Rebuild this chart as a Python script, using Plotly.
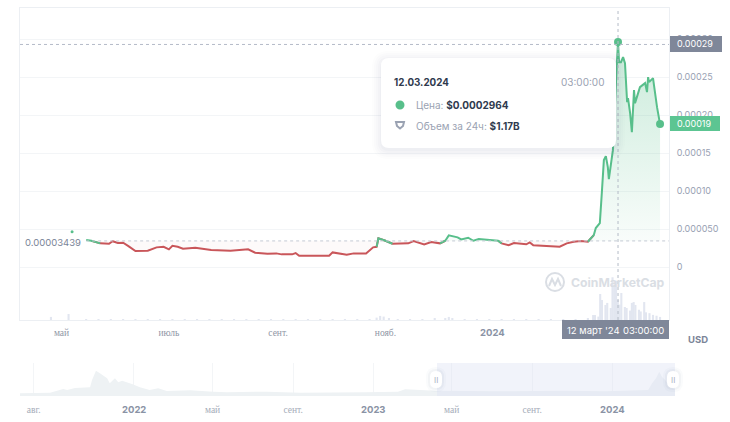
import plotly.graph_objects as go

W, H = 730, 422

GREEN = "#58bf8b"
RED = "#c9565a"
GREY = "#98a1b3"
GRID = "#f3f5f7"
EDGE = "#eceff3"
FONT = "Inter"

BASE_PRICE = 0.00003439
PEAK_DATE = "2024-03-12 03:00"
PEAK_LINE = 0.000293

# price history
price_dates = [
    "2023-05-15", "2023-05-18", "2023-05-23", "2023-05-28", "2023-05-30", "2023-06-02", "2023-06-05",
    "2023-06-08", "2023-06-12", "2023-06-19", "2023-06-24", "2023-06-28", "2023-07-01", "2023-07-03",
    "2023-07-06", "2023-07-09", "2023-07-14", "2023-07-16", "2023-07-25", "2023-08-05", "2023-08-15",
    "2023-08-19", "2023-08-26", "2023-08-31", "2023-09-03", "2023-09-09", "2023-09-11", "2023-09-13",
    "2023-09-30", "2023-10-02", "2023-10-10", "2023-10-14", "2023-10-21", "2023-10-25", "2023-10-27",
    "2023-10-28", "2023-11-01", "2023-11-05", "2023-11-14", "2023-11-17", "2023-11-23", "2023-11-27",
    "2023-12-02", "2023-12-05", "2023-12-07", "2023-12-12", "2023-12-14", "2023-12-18", "2023-12-21",
    "2023-12-24", "2024-01-04", "2024-01-06", "2024-01-10", "2024-01-13", "2024-01-20", "2024-01-22",
    "2024-01-24", "2024-02-04", "2024-02-08", "2024-02-12", "2024-02-16", "2024-02-20", "2024-02-24",
    "2024-02-27 09:00", "2024-02-28 12:00", "2024-02-29 16:00", "2024-03-01 19:00", "2024-03-02 22:00",
    "2024-03-04 02:00", "2024-03-05 05:00", "2024-03-06 08:00", "2024-03-06 22:00", "2024-03-08 00:00",
    "2024-03-09 05:00", "2024-03-11 12:00", "2024-03-12 03:00", "2024-03-12 17:00", "2024-03-13 19:00",
    "2024-03-15 00:00", "2024-03-16 02:00", "2024-03-17 07:00", "2024-03-17 19:00", "2024-03-19 00:00",
    "2024-03-20 00:00", "2024-03-21 05:00", "2024-03-21 19:00", "2024-03-24 14:00", "2024-03-27 12:00",
    "2024-03-28 14:00", "2024-03-29 05:00", "2024-03-29 19:00", "2024-04-01 00:00", "2024-04-03 07:00",
    "2024-04-05 00:00",
]
# in millionths of a dollar
price_micro = [
    35.5, 34.5, 31.2, 30.7, 34.0, 31.6, 32.0,
    27.6, 21.1, 21.4, 25.9, 26.7, 23.3, 28.0,
    26.7, 24.1, 24.6, 25.4, 22.4, 21.4, 23.3,
    18.8, 17.5, 18.0, 16.7, 16.7, 18.4, 14.9,
    14.9, 19.3, 16.2, 18.0, 17.8, 25.9, 26.7,
    37.8, 34.6, 30.7, 31.2, 34.2, 29.9, 32.9,
    31.2, 34.6, 41.7, 39.1, 36.4, 38.6, 34.6,
    36.8, 34.6, 31.2, 28.9, 31.6, 29.9, 32.5,
    28.6, 27.2, 26.7, 31.2, 33.3, 34.2, 33.3,
    42.1, 51.3, 55.3, 57.9, 97.4,
    140.8, 146.0, 131.6, 115.8, 131.6,
    153.9, 269.7, 296.4, 269.7, 269.7,
    276.3, 268.4, 217.1, 222.4, 202.6,
    177.6, 232.9, 215.8, 236.8, 242.1,
    230.3, 250.0, 243.4, 248.7, 210.5,
    188.2,
]

# 24h volume, $B
volume_dates = [
    "2023-04-25", "2023-05-05", "2023-05-15", "2023-05-22", "2023-05-29", "2023-06-05",
    "2023-06-12", "2023-06-19", "2023-06-26", "2023-07-03", "2023-07-10", "2023-07-17", "2023-07-24",
    "2023-07-31", "2023-08-07", "2023-08-14", "2023-08-21", "2023-08-28", "2023-09-04", "2023-09-11",
    "2023-09-18", "2023-09-25", "2023-10-02", "2023-10-09", "2023-10-16", "2023-10-23", "2023-10-27",
    "2023-10-29", "2023-10-31", "2023-11-03", "2023-11-08", "2023-11-15", "2023-11-22", "2023-11-29",
    "2023-12-05", "2023-12-07", "2023-12-09", "2023-12-16", "2023-12-23", "2023-12-30", "2024-01-06",
    "2024-01-13", "2024-01-20", "2024-01-27", "2024-02-03", "2024-02-10", "2024-02-17", "2024-02-24",
    "2024-02-27", "2024-02-28", "2024-03-01", "2024-03-02", "2024-03-03", "2024-03-05", "2024-03-06",
    "2024-03-08", "2024-03-09", "2024-03-10", "2024-03-11", "2024-03-12", "2024-03-13", "2024-03-14",
    "2024-03-16", "2024-03-17", "2024-03-19", "2024-03-20", "2024-03-21", "2024-03-22", "2024-03-24",
    "2024-03-25", "2024-03-27", "2024-03-28", "2024-03-30", "2024-04-01", "2024-04-03", "2024-04-05",
]
volume_b = [
    0.18, 0.35, 0.05, 0.03, 0.03, 0.03,
    0.03, 0.03, 0.03, 0.04, 0.03, 0.04, 0.03,
    0.03, 0.03, 0.03, 0.03, 0.03, 0.03, 0.03,
    0.03, 0.03, 0.03, 0.03, 0.03, 0.05, 0.14,
    0.24, 0.20, 0.10, 0.05, 0.05, 0.04, 0.06,
    0.08, 0.18, 0.10, 0.04, 0.03, 0.03, 0.04,
    0.03, 0.03, 0.03, 0.03, 0.03, 0.05, 0.10,
    0.29, 0.29, 0.20, 1.52, 1.17, 0.88, 1.00,
    0.70, 2.50, 2.05, 2.30, 1.17, 0.90, 1.58,
    0.76, 0.70, 0.55, 1.00, 1.05, 0.88, 0.60,
    0.50, 1.05, 0.45, 0.40, 0.30, 0.25, 0.18,
]

# overview strip under the chart
overview_dates = [
    "2021-07-11", "2021-08-26", "2021-09-15", "2021-09-21", "2021-10-03", "2021-10-26", "2021-10-29",
    "2021-11-04", "2021-11-10", "2021-11-21", "2021-11-25", "2021-12-03", "2021-12-08", "2021-12-14",
    "2021-12-30", "2022-01-10", "2022-01-25", "2022-02-07", "2022-02-20", "2022-03-28", "2022-05-02",
    "2022-05-23", "2022-07-23", "2022-09-12", "2022-12-20", "2023-02-08", "2023-02-19", "2023-04-06",
    "2023-07-11", "2023-10-21", "2023-12-21", "2024-02-25", "2024-03-02", "2024-03-08", "2024-03-13",
    "2024-03-17", "2024-03-22", "2024-03-30", "2024-04-06",
]
overview_micro = [
    33, 41, 86, 74, 98, 107, 197,
    311, 279, 218, 156, 218, 169, 188,
    144, 107, 74, 95, 62, 70, 53,
    46, 53, 41, 46, 53, 82, 65,
    58, 65, 58, 74, 156, 218, 299,
    237, 197, 107, 82,
]

price_ticks = [-0.00005, 0, 0.00005, 0.0001, 0.00015, 0.0002, 0.00025, 0.0003]
price_tick_text = ["", "0", "0.000050", "0.00010", "0.00015", "0.00020", "0.00025", "0.00030"]
month_ticks = ["2023-05-01", "2023-07-01", "2023-09-01", "2023-11-01", "2024-01-01"]
month_text = ["май", "июль", "сент.", "нояб.", ""]
overview_ticks = ["2021-08-01", "2022-01-01", "2022-05-01", "2022-09-01", "2023-01-01", "2023-05-01", "2023-09-01", "2024-01-01"]
overview_text = ["авг.", "", "май", "сент.", "", "май", "сент.", ""]
overview_years = ["2022", "2023", "2024"]

prices = [p * 1e-6 for p in price_micro]
overview = [p * 1e-6 for p in overview_micro]


# split the line around the base price, keep the crossing segment in both colours
def side(values, above):
    test = [(v >= BASE_PRICE) == above for v in values]
    out = []
    for i, v in enumerate(values):
        near = test[i] or (i > 0 and test[i - 1]) or (i < len(values) - 1 and test[i + 1])
        out.append(v if near else None)
    return out


def px(x, y):
    return x / W, 1 - y / H


def rounded(x0, y0, x1, y1, r):
    a, b = px(x0, y0), px(x1, y1)
    rx, ry = r / W, r / H
    return (
        f"M{a[0] + rx},{a[1]} L{b[0] - rx},{a[1]} Q{b[0]},{a[1]} {b[0]},{a[1] - ry} "
        f"L{b[0]},{b[1] + ry} Q{b[0]},{b[1]} {b[0] - rx},{b[1]} L{a[0] + rx},{b[1]} "
        f"Q{a[0]},{b[1]} {a[0]},{b[1] + ry} L{a[0]},{a[1] - ry} Q{a[0]},{a[1]} {a[0] + rx},{a[1]} Z"
    )


def box(x0, y0, x1, y1, r, fill):
    return dict(type="path", xref="paper", yref="paper", path=rounded(x0, y0, x1, y1, r),
                fillcolor=fill, line_width=0, layer="above")


def label(x, y, text, size=10, color=GREY, anchor="left", family=FONT):
    a, b = px(x, y)
    return dict(xref="paper", yref="paper", x=a, y=b, text=text, showarrow=False, xanchor=anchor,
                yanchor="middle", font=dict(family=family, size=size, color=color), borderpad=0, borderwidth=0)


fig = go.Figure()

base_line = [BASE_PRICE] * len(prices)
fig.add_trace(go.Scatter(x=price_dates, y=base_line, mode="lines", line=dict(width=0), hoverinfo="skip"))
fig.add_trace(go.Scatter(
    x=price_dates, y=[max(p, BASE_PRICE) for p in prices], mode="lines", line=dict(width=0), fill="tonexty",
    fillgradient=dict(type="vertical", colorscale=[[0, "rgba(88,191,139,0.04)"], [1, "rgba(88,191,139,0.32)"]]),
    hoverinfo="skip"))
fig.add_trace(go.Scatter(x=price_dates, y=base_line, mode="lines", line=dict(width=0), hoverinfo="skip"))
fig.add_trace(go.Scatter(
    x=price_dates, y=[min(p, BASE_PRICE) for p in prices], mode="lines", line=dict(width=0), fill="tonexty",
    fillcolor="rgba(201,86,90,0.03)", hoverinfo="skip"))

fig.add_trace(go.Scatter(x=price_dates, y=side(prices, False), mode="lines", line=dict(color=RED, width=2)))
fig.add_trace(go.Scatter(x=price_dates, y=side(prices, True), mode="lines", line=dict(color=GREEN, width=2)))

# stray tick at the start and the two highlighted points
fig.add_trace(go.Scatter(x=["2023-05-07"], y=[0.0000464], mode="markers", marker=dict(color=GREEN, size=3)))
fig.add_trace(go.Scatter(x=[PEAK_DATE, price_dates[-1]], y=[prices[price_dates.index(PEAK_DATE)], prices[-1]],
                         mode="markers", marker=dict(color=GREEN, size=8)))

fig.add_trace(go.Bar(x=volume_dates, y=volume_b, yaxis="y3", marker=dict(color="#e2e6f0", line_width=0),
                     width=1.2 * 86400000))

fig.add_trace(go.Scatter(x=overview_dates, y=overview, xaxis="x2", yaxis="y2", mode="lines",
                         line=dict(width=0), fill="tozeroy", fillcolor="#eef2f4"))

shapes = [
    # base price and crosshair
    dict(type="line", xref="x", yref="y", x0=price_dates[0], x1="2024-04-10", y0=BASE_PRICE, y1=BASE_PRICE,
         line=dict(color="#c4cad4", width=1, dash="dot")),
    dict(type="line", xref="paper", yref="y", x0=20 / W, x1=669 / W, y0=PEAK_LINE, y1=PEAK_LINE,
         line=dict(color="#b4bbc8", width=1, dash="dot")),
    dict(type="line", xref="x", yref="paper", x0=PEAK_DATE, x1=PEAK_DATE, y0=px(0, 320)[1], y1=px(0, 8)[1],
         line=dict(color="#b4bbc8", width=1, dash="dot")),
    # watermark logo
    dict(type="circle", xref="paper", yref="paper", x0=px(546, 0)[0], x1=px(564, 0)[0], y0=px(0, 291)[1], y1=px(0, 273)[1],
         line=dict(color="#dadee4", width=2), layer="above"),
    dict(type="path", xref="paper", yref="paper", line=dict(color="#dadee4", width=2), layer="above",
         path=f"M{px(549, 286)[0]},{px(549, 286)[1]} L{px(552, 279)[0]},{px(552, 279)[1]} "
              f"L{px(555, 285)[0]},{px(555, 285)[1]} L{px(558, 279)[0]},{px(558, 279)[1]} "
              f"L{px(561, 286)[0]},{px(561, 286)[1]}"),
]

# tooltip with a soft shadow
for grow, alpha in [(9, 0.012), (7, 0.014), (5, 0.016), (3, 0.02), (1, 0.025)]:
    shapes.append(box(381 - grow, 58 - grow + 2, 616 + grow, 148 + grow + 2, 8 + grow, f"rgba(60,75,110,{alpha})"))
shapes.append(box(381, 58, 616, 148, 8, "#ffffff"))
shapes.append(dict(type="circle", xref="paper", yref="paper", x0=px(395.5, 0)[0], x1=px(404.5, 0)[0],
                   y0=px(0, 109.5)[1], y1=px(0, 100.5)[1], fillcolor=GREEN, line_width=0, layer="above"))
shapes.append(dict(type="path", xref="paper", yref="paper", fillcolor="#ffffff", layer="above",
                   line=dict(color="#9aa2b2", width=2),
                   path=f"M{px(396, 122)[0]},{px(396, 122)[1]} L{px(404, 122)[0]},{px(404, 122)[1]} "
                        f"L{px(403, 126)[0]},{px(403, 126)[1]} L{px(400, 128.5)[0]},{px(400, 128.5)[1]} "
                        f"L{px(397, 126)[0]},{px(397, 126)[1]} Z"))

# price and date flags
shapes.append(box(670, 36, 722, 52, 0, "#7f8799"))
shapes.append(box(670, 116, 720, 131, 0, "#5cc592"))
shapes.append(box(562, 320, 669, 339, 0, "#7f8799"))

# overview selection
shapes.append(box(437, 363, 675, 396, 0, "rgba(222,227,242,0.42)"))
for cx in (436, 673):
    for grow, alpha in [(4, 0.025), (2, 0.04)]:
        shapes.append(box(cx - 6 - grow, 371 - grow, cx + 6 + grow, 388 + grow, 6 + grow, f"rgba(60,75,110,{alpha})"))
    shapes.append(box(cx - 6, 371, cx + 6, 388, 6, "#ffffff"))

annotations = [
    label(25, 242, "0.00003439", size=9.5, color="#7b8598"),
    label(394, 82, "<b>12.03.2024</b>", size=9.8, color="#2f3a4e"),
    label(604, 82, "03:00:00", size=10, color="#9aa2b2", anchor="right"),
    label(416, 105, 'Цена: <span style="color:#2f3a4e"><b>$0.0002964</b></span>', size=10, color="#9aa2b2"),
    label(416, 126, 'Объем за 24ч: <span style="color:#2f3a4e"><b>$1.17B</b></span>', size=10, color="#9aa2b2"),
    label(677, 44, "0.00029", size=9, color="#ffffff"),
    label(677, 124, "0.00019", size=9, color="#ffffff"),
    label(567, 330, "12 март '24", size=9.5, color="#ffffff"),
    label(664, 330, "03:00:00", size=9.5, color="#ffffff", anchor="right"),
    label(698, 339, "<b>USD</b>", size=9.5, color="#7b8598", anchor="center"),
    label(571, 282, "<b>CoinMarketCap</b>", size=12.2, color="#dadee4"),
    label(436, 380, "II", size=8, color="#aab1bf", anchor="center"),
    label(673, 380, "II", size=8, color="#aab1bf", anchor="center"),
    dict(xref="x", yref="paper", x="2024-01-01", y=px(0, 332)[1], text="<b>2024</b>", showarrow=False,
         yanchor="middle", font=dict(family=FONT, size=9.5, color="#8a93a5")),
]
for year in overview_years:
    annotations.append(dict(xref="x2", yref="paper", x=f"{year}-01-01", y=px(0, 409)[1], text=f"<b>{year}</b>",
                            showarrow=False, yanchor="middle", font=dict(family=FONT, size=9.5, color="#8a93a5")))

fig.update_layout(
    width=W, height=H,
    margin=dict(l=0, r=0, t=0, b=0),
    paper_bgcolor="white", plot_bgcolor="white",
    showlegend=False,
    font=dict(family=FONT, color=GREY),
    shapes=shapes,
    annotations=annotations,
    xaxis=dict(domain=[20 / W, 669 / W], anchor="y", range=["2023-04-07 10:00", "2024-04-10 02:00"], type="date",
               tickvals=month_ticks, ticktext=month_text, tickangle=0, showgrid=False, ticks="",
               tickfont=dict(family="Liberation Serif", size=9.5, color="#8f97a6"), ticklabelstandoff=4,
               showline=True, linecolor=EDGE, mirror=True, zeroline=False),
    yaxis=dict(domain=[px(0, 320)[1], px(0, 8)[1]], anchor="x", side="right", range=[-0.0000697, 0.000341],
               tickvals=price_ticks, ticktext=price_tick_text, ticks="", ticklabelstandoff=5,
               tickfont=dict(family=FONT, size=9, color=GREY), showgrid=True, gridcolor=GRID, zeroline=False,
               showline=True, linecolor=EDGE, mirror=True),
    yaxis3=dict(domain=[px(0, 320)[1], px(0, 270)[1]], anchor="x", range=[0, 2.925], visible=False),
    xaxis2=dict(domain=[20 / W, 675 / W], anchor="y2", range=["2021-07-11", "2024-04-06"], type="date",
                tickvals=overview_ticks, ticktext=overview_text, tickangle=0, showgrid=True, gridcolor=GRID, ticks="",
                tickfont=dict(family="Liberation Serif", size=9.5, color="#a5acb9"), ticklabelstandoff=6,
                zeroline=False),
    yaxis2=dict(domain=[px(0, 396)[1], px(0, 363)[1]], anchor="x2", range=[0, 0.000406], visible=False),
)

# the page's default body margin would shift the whole figure
fig.write_html("out.html", config={"displayModeBar": False}, post_script="document.body.style.margin = '0';")
